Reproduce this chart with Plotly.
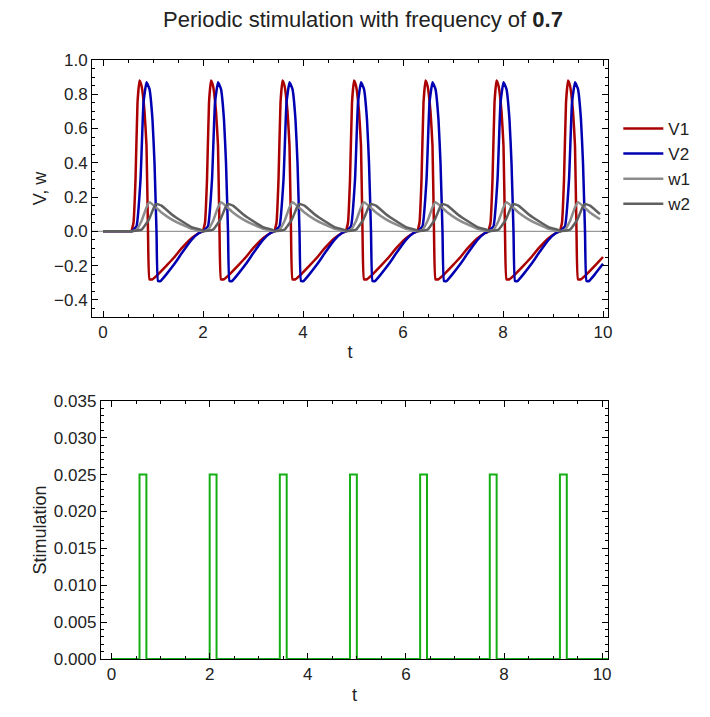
import plotly.graph_objects as go
from plotly.subplots import make_subplots

# stimulation pulse onsets
stim_starts = [0.57, 2.0, 3.43, 4.86, 6.29, 7.71, 9.14]
stim_width = 0.14
stim_amp = 0.025

# one spike cycle, time offsets after pulse onset
v1_dt = [0, 0.04, 0.08, 0.12, 0.16, 0.2, 0.26, 0.3, 0.33, 0.36, 0.42, 0.5, 0.7, 0.86, 1.0, 1.2, 1.35, 1.43]
v1_val = [0, 0.05, 0.3, 0.75, 0.88, 0.85, 0.7, 0.5, 0.0, -0.28, -0.28, -0.26, -0.2, -0.15, -0.1, -0.04, -0.01, 0]
v2_dt = [0, 0.1, 0.18, 0.24, 0.3, 0.36, 0.42, 0.46, 0.5, 0.53, 0.58, 0.7, 0.86, 1.0, 1.2, 1.35, 1.43]
v2_val = [0, 0.03, 0.3, 0.75, 0.87, 0.83, 0.65, 0.4, 0.0, -0.29, -0.29, -0.25, -0.19, -0.13, -0.05, -0.01, 0]
w1_dt = [0, 0.1, 0.2, 0.3, 0.36, 0.45, 0.6, 0.8, 1.0, 1.2, 1.43]
w1_val = [0, 0.01, 0.06, 0.14, 0.17, 0.15, 0.11, 0.07, 0.04, 0.015, 0]
w2_dt = [0, 0.2, 0.35, 0.45, 0.5, 0.6, 0.8, 1.0, 1.2, 1.43]
w2_val = [0, 0.01, 0.07, 0.14, 0.16, 0.15, 0.1, 0.06, 0.025, 0.005]


def build(dts, vals):
    xs, ys = [0, stim_starts[0]], [0, 0]
    for s in stim_starts:
        for d, v in zip(dts, vals):
            if s + d <= 10:
                xs.append(s + d)
                ys.append(v)
    return xs, ys


series = [
    ("V1", v1_dt, v1_val, "rgb(170,0,0)"),
    ("V2", v2_dt, v2_val, "rgb(0,0,178)"),
    ("w1", w1_dt, w1_val, "rgb(140,140,140)"),
    ("w2", w2_dt, w2_val, "rgb(95,95,95)"),
]

fig = make_subplots(rows=2, cols=1)

fig.add_trace(go.Scatter(x=[-0.22, 10.1], y=[0, 0], mode="lines", showlegend=False,
                         line=dict(color="gray", width=1), hoverinfo="skip"), row=1, col=1)
for name, dts, vals, col in series:
    xs, ys = build(dts, vals)
    fig.add_trace(go.Scatter(x=xs, y=ys, mode="lines", name=name,
                             line=dict(color=col, width=2.5, shape="spline", smoothing=0.35)), row=1, col=1)

sx, sy = [0], [0]
for s in stim_starts:
    sx += [s, s + stim_width]
    sy += [stim_amp, 0]
sx.append(10.12)
sy.append(0)
fig.add_trace(go.Scatter(x=sx, y=sy, mode="lines", showlegend=False,
                         line=dict(color="rgb(20,175,20)", width=2, shape="hv")), row=2, col=1)

axis_style = dict(showline=True, linecolor="black", linewidth=1, mirror="ticks", ticks="inside",
                  ticklen=6, tickcolor="black", showgrid=False, zeroline=False,
                  tickfont=dict(size=17, color="#222"),
                  minor=dict(ticks="inside", ticklen=3, tickcolor="black", showgrid=False))

fig.update_xaxes(**axis_style)
fig.update_yaxes(**axis_style)
fig.update_xaxes(range=[-0.22, 10.1], dtick=2, minor_dtick=0.5, domain=[0, 1],
                 title=dict(text="t", font=dict(size=18), standoff=4), row=1, col=1)
fig.update_yaxes(range=[-0.5, 1.0], dtick=0.2, minor_dtick=0.05, tickformat=".1f", domain=[0.571, 1],
                 title=dict(text="V, w", font=dict(size=18), standoff=2), row=1, col=1)
fig.update_xaxes(range=[-0.22, 10.12], dtick=2, minor_dtick=0.5, domain=[0.017, 1],
                 title=dict(text="t", font=dict(size=18), standoff=4), row=2, col=1)
fig.update_yaxes(range=[0, 0.035], dtick=0.005, minor_dtick=0.001, tickformat=".3f", domain=[0, 0.431],
                 title=dict(text="Stimulation", font=dict(size=18), standoff=2), row=2, col=1)

fig.update_layout(
    width=710, height=717,
    margin=dict(l=84, r=110, t=52, b=66),
    font=dict(family="Liberation Sans, Arial, sans-serif", color="#222"),
    title=dict(text="Periodic stimulation with frequency of <b>0.7</b>", x=0.5, xanchor="center",
               y=0.995, yanchor="top", font=dict(size=22)),
    legend=dict(x=1.02, y=0.915, xanchor="left", yanchor="top", font=dict(size=17),
                tracegroupgap=8, itemwidth=40),
    plot_bgcolor="white", paper_bgcolor="white",
)

fig.write_html("out.html")
